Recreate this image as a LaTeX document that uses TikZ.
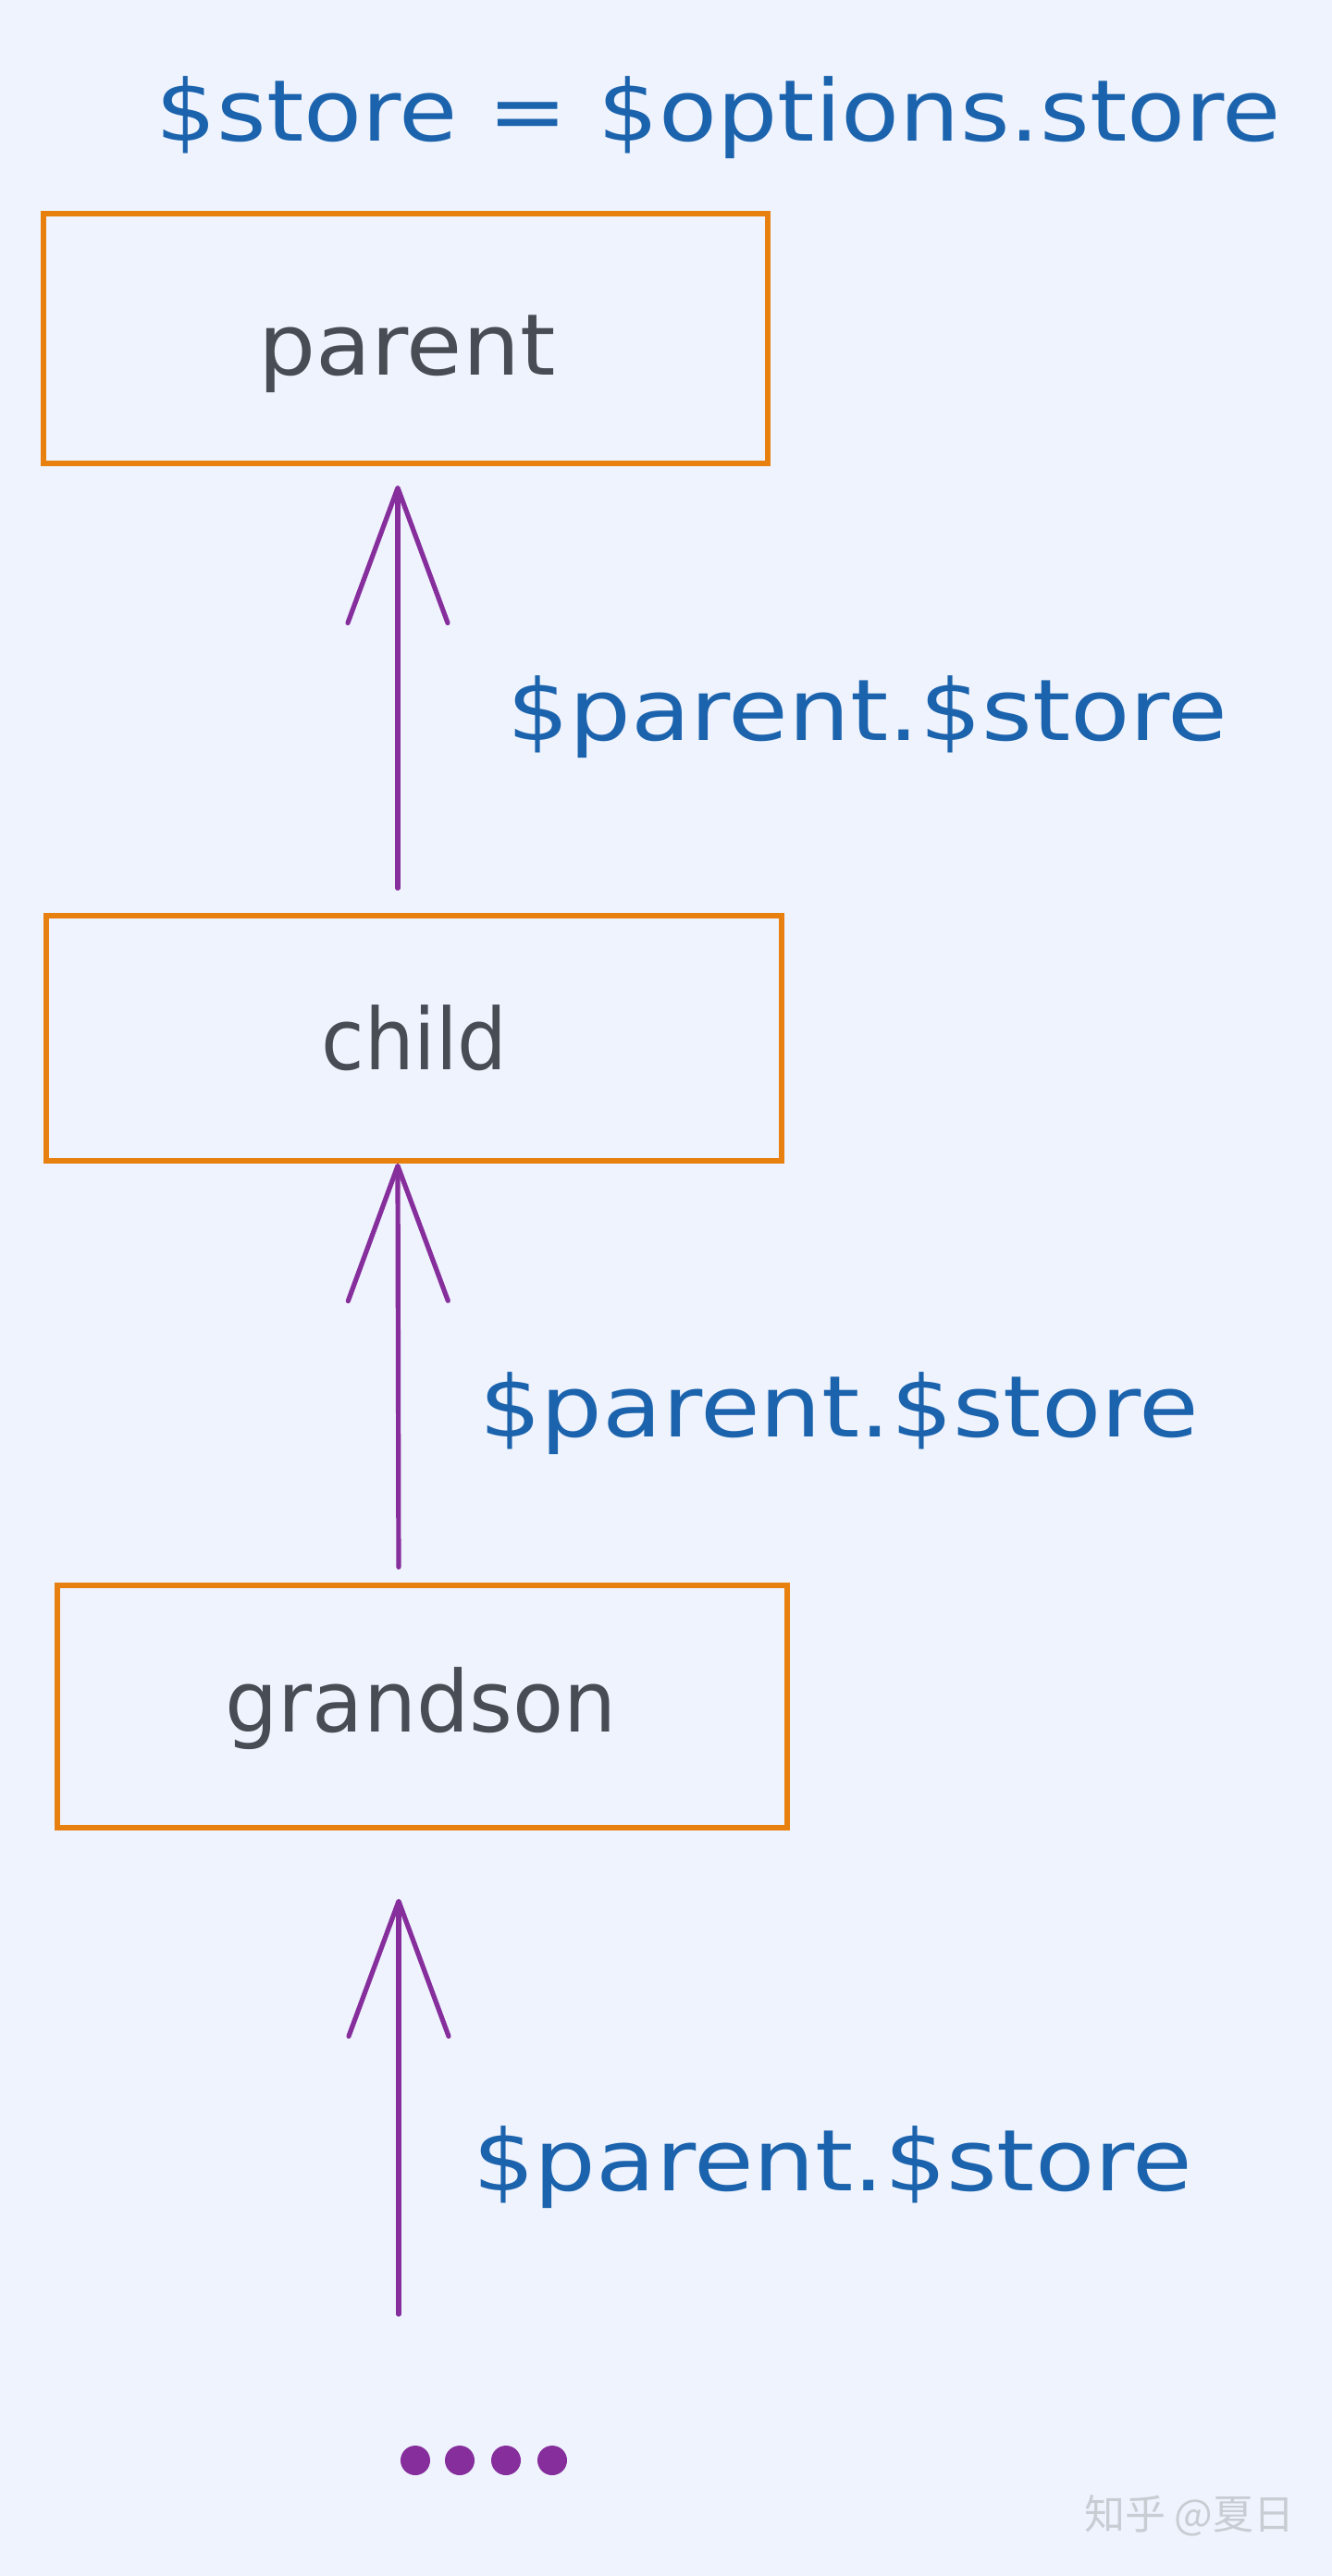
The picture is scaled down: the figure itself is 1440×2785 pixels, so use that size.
\documentclass[tikz,border=0pt]{standalone}
\usepackage{fontspec}
\usepackage{graphicx}
\setmainfont{DejaVu Sans}
\newfontfamily\cjkfont{Noto Sans CJK SC}
\usetikzlibrary{arrows.meta}
\definecolor{bgc}{HTML}{EEF3FD}
\definecolor{boxorange}{HTML}{E8800F}
\definecolor{labelblue}{HTML}{1C63AD}
\definecolor{arrowpurple}{HTML}{862E9C}
\definecolor{inktext}{HTML}{484C54}
\definecolor{markgray}{HTML}{C8CCD3}
\newcommand{\stretchw}[2]{\resizebox{#1}{\height}{#2}}
\tikzset{
  framebox/.style={draw=boxorange, line width=2.8pt, minimum width=#1, minimum height=132pt, inner sep=0pt},
  boxtext/.style={text=inktext, font=\fontsize{46}{46}\selectfont, anchor=base, inner sep=0pt},
  bluetext/.style={text=labelblue, font=\fontsize{46}{46}\selectfont, anchor=base, inner sep=0pt},
  upconn/.style={draw=arrowpurple, line width=2.6pt, line cap=round, -{Straight Barb[length=73pt,width=54pt,line width=2.6pt,round]}},
  dotmark/.style={circle, fill=arrowpurple, minimum size=16pt, inner sep=0pt},
}
\begin{document}
\begin{tikzpicture}[x=0.5pt,y=-0.5pt]
\fill[bgc] (0,0) rectangle (1440,2785);
\useasboundingbox (0,0) rectangle (1440,2785);

% title
\node[bluetext] (title) at (777,152) {\stretchw{608pt}{\$store = \$options.store}};

% boxes
\node[framebox=391.5pt, minimum height=135pt] (parent) at (438.5,366) {};
\node[boxtext] (parenttxt) at (440,405) {\stretchw{160.5pt}{parent}};

\node[framebox=397.5pt, minimum height=132.5pt] (child) at (447.5,1122.5) {};
\node[boxtext] (childtxt) at (448,1156) {\stretchw{100.5pt}{child}};

\node[framebox=394.5pt, minimum height=131pt] (grandson) at (456.5,1845) {};
\node[boxtext] (grandsontxt) at (455,1872) {\stretchw{211.5pt}{grandson}};

% labels
\node[bluetext] (lab1) at (938,800) {\stretchw{389.5pt}{\$parent.\$store}};
\node[bluetext] (lab2) at (907,1553) {\stretchw{389pt}{\$parent.\$store}};
\node[bluetext] (lab3) at (900,2368) {\stretchw{389pt}{\$parent.\$store}};

% connectors
\coordinate (tail) at (431,2502);
\draw[upconn, shorten <=13.5pt, shorten >=10.5pt] ([xshift=-8.75pt]child.north) -- ([xshift=-4.25pt]parent.south);
\draw[upconn, shorten <=8.5pt] ([xshift=-12.75pt]grandson.north) -- ([xshift=-8.75pt]child.south);
\draw[upconn, shorten >=37pt] (tail) -- ([xshift=-12.75pt]grandson.south);

% dots
\node[dotmark] (d1) at (449,2660) {};
\node[dotmark] (d2) at (497,2660) {};
\node[dotmark] (d3) at (547,2660) {};
\node[dotmark] (d4) at (597,2660) {};

% watermark
\node[text=markgray, font=\cjkfont\fontsize{22}{22}\selectfont, anchor=east, inner sep=0pt] (mark) at (1400,2720) {知乎 @夏日};
\end{tikzpicture}
\end{document}
